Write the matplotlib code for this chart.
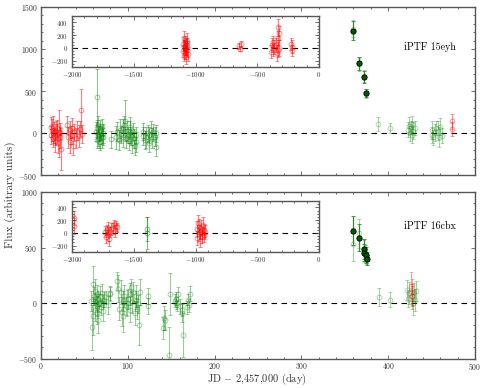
import matplotlib
matplotlib.use("Agg")
import matplotlib.pyplot as plt
from matplotlib.ticker import MultipleLocator

plt.rcParams['font.family'] = 'serif'
plt.rcParams['font.serif'] = ['cmr10']
plt.rcParams['mathtext.fontset'] = 'cm'
plt.rcParams['axes.formatter.use_mathtext'] = True

# ---- iPTF 15eyh (top panel) ----
eyh_red_x = [11, 12, 13, 14, 14, 15, 16, 16, 17, 18, 19, 20, 21, 22, 22, 23,
             30, 31, 33, 34, 35, 36, 37, 38, 40, 41, 44, 45, 46, 47]
eyh_red_y = [70, -20, 40, -60, 90, 10, -40, -90, 30, -10, 60, -120, 0, -50, 20, -190,
             100, -50, 40, -100, -20, 60, -150, 10, -60, 30, -30, 50, 280, -10]
eyh_red_e = [120, 110, 130, 100, 110, 120, 100, 130, 110, 120, 100, 110, 280, 120, 100, 250,
             110, 120, 100, 130, 110, 120, 110, 100, 120, 110, 130, 100, 250, 110]

eyh_grn_x = [63, 64, 65, 65, 66, 66, 67, 67, 68, 68, 69, 70, 70, 71, 72, 81,
             87, 88, 90, 91, 92, 94, 95, 96, 97, 98, 99, 100, 101, 102, 103, 104, 105, 106, 107, 108, 109, 110,
             117, 118, 120, 121, 123, 124, 125, 127, 128, 129, 131, 132, 133]
eyh_grn_y = [20, -80, 430, 60, -30, 100, -60, 10, 40, -100, -20, 70, -50, 0, -40, -70,
             -50, 20, -80, 40, -10, 60, -40, 100, 150, -60, 30, -20, -90, 10, 70, -30, -110, 20, -60, -150, -100, -20,
             -30, 20, -80, -50, 0, -110, -20, 40, -60, 10, -40, 0, -160]
eyh_grn_e = [110, 100, 330, 100, 120, 100, 110, 100, 120, 100, 110, 100, 120, 110, 100, 100,
             140, 110, 120, 130, 100, 110, 120, 100, 240, 110, 120, 100, 110, 130, 120, 110, 120, 100, 110, 110, 120, 100,
             110, 100, 110, 120, 100, 110, 100, 110, 120, 100, 110, 100, 110]

eyh_peak_x = [360, 366, 372, 375]
eyh_peak_y = [1220, 830, 670, 480]
eyh_peak_e = [110, 80, 70, 50]

eyh_late_x = [360, 366, 372, 375, 388, 402, 423, 424, 425, 426, 427, 428, 429, 431,
              450, 451, 452, 454, 455, 457, 458, 460, 462]
eyh_late_y = [1240, 820, 680, 470, 110, 60, 40, 90, 0, 70, -20, 110, 30, 60,
              -20, 40, -50, 10, 60, 30, -40, 80, -30]
eyh_late_e = [100, 80, 70, 50, 80, 60, 90, 100, 90, 80, 100, 90, 100, 80,
              90, 110, 90, 100, 80, 110, 120, 100, 90]

eyh_red2_x = [474, 474]
eyh_red2_y = [140, 50]
eyh_red2_e = [90, 80]

# top inset (earlier epochs)
eyh_in_x = [-1105, -1100, -1095, -1092, -1090, -1088, -1085, -1082, -1080, -1078, -1075, -1072, -1070, -1068, -1065, -1062,
            -645, -640, -635,
            -385, -380, -375, -370, -365,
            -345, -340, -335, -332, -330, -328, -325,
            -225, -220, -215]
eyh_in_y = [-50, 60, -120, 20, 150, -80, 0, 90, -20, 40, -150, 70, -40, 110, 10, -90,
            30, -10, 60,
            -60, 40, 100, -20, 10,
            50, -80, 320, 150, -30, 230, 0,
            60, -40, 20]
eyh_in_e = [100, 110, 90, 100, 120, 100, 110, 100, 90, 110, 100, 90, 110, 120, 100, 110,
            50, 40, 50,
            100, 110, 90, 100, 110,
            110, 120, 140, 110, 120, 110, 130,
            100, 90, 100]

# ---- iPTF 16cbx (bottom panel) ----
cbx_grn_x = [58, 59, 60, 60, 61, 62, 62, 63, 64, 64, 65, 66, 66, 67, 68, 69, 70, 71, 72, 73, 75, 77, 79, 80,
             88, 89, 90, 92, 93, 94, 95, 96, 98, 99, 100, 102, 103, 104, 105, 106, 108, 109, 110, 111, 112, 113, 114,
             123, 123,
             141, 142, 143, 148, 149, 154, 155, 156, 157, 158, 160, 162, 163, 164, 168, 169, 170, 172]
cbx_grn_y = [20, -220, 175, -120, 60, -60, 110, 10, -30, 80, -90, 40, -150, 0, 60, -40, 90, 20, -70, 30, 50, -20, 80, 90,
             200, 130, -50, 100, -80, 20, -120, 60, -30, 0, 40, 80, -60, 140, 10, 100, -90, 30, 60, -50, -10, -200, 100,
             65, -25,
             -225, -135, -150, -470, 85, 20, 0, 40, -20, 80, -30, -60, -90, -290, -40, 30, -20, 85]
cbx_grn_e = [90, 200, 160, 170, 80, 100, 110, 70, 90, 80, 100, 70, 120, 80, 90, 70, 80, 60, 90, 70, 60, 80, 60, 60,
             80, 120, 100, 110, 130, 90, 140, 100, 80, 120, 90, 100, 110, 80, 100, 90, 110, 80, 100, 90, 80, 180, 120,
             70, 70,
             100, 110, 90, 250, 190, 60, 50, 60, 50, 60, 70, 60, 80, 200, 60, 50, 60, 70]

cbx_peak_x = [360, 366, 372, 372.5, 374.5, 375.5]
cbx_peak_y = [650, 590, 490, 455, 435, 400]
cbx_peak_e = [130, 120, 90, 80, 70, 60]

cbx_late_x = [360, 366, 372, 374, 375, 390, 402, 422, 423, 424, 428, 429, 430, 431, 432]
cbx_late_y = [530, 630, 470, 440, 420, 55, 30, 120, 40, 90, 60, 0, 100, 30, 110]
cbx_late_e = [150, 130, 100, 80, 70, 80, 70, 90, 80, 100, 90, 110, 80, 100, 90]

cbx_red_x = [426, 427, 428]
cbx_red_y = [150, 60, 100]
cbx_red_e = [130, 110, 120]

# bottom inset
cbx_in_red_x = [-1985, -1985,
                -1735, -1728, -1720, -1712, -1705, -1698, -1690, -1682,
                -1665, -1658, -1650, -1642, -1635,
                -990, -985, -980, -975, -970, -965, -960, -955, -950, -945, -940, -935, -930, -925]
cbx_in_red_y = [240, 110,
                20, -60, 40, -20, 80, -100, 10, 60,
                70, 140, 30, 110, 90,
                -80, 60, 150, -20, 100, 20, -120, 80, -50, 0, 130, -40, 40, 10]
cbx_in_red_e = [110, 120,
                90, 100, 80, 110, 90, 100, 80, 90,
                80, 70, 90, 80, 70,
                110, 120, 130, 100, 120, 110, 100, 120, 110, 100, 120, 110, 100, 110]
cbx_in_grn_x = [-1395, -1395]
cbx_in_grn_y = [60, 0]
cbx_in_grn_e = [190, 250]

RED = '#ff0000'
GRN = '#008000'


def open_pts(ax, x, y, e, color, alpha):
    ax.errorbar(x, y, yerr=e, fmt='o', mfc='none', mec=color, ecolor=color,
                alpha=alpha, ms=3.5, mew=0.6, elinewidth=0.8, capsize=1.5, capthick=0.6, zorder=2)


def filled_pts(ax, x, y, e):
    ax.errorbar(x, y, yerr=e, fmt='o', mfc='#005a00', mec='black', ecolor='#2e8b2e',
                ms=3.8, mew=0.6, elinewidth=0.9, capsize=1.5, capthick=0.7, zorder=3)


def style(ax, fs=5.5):
    ax.tick_params(which='both', direction='in', top=True, right=True, labelsize=fs,
                   color='#333333', labelcolor='#333333', pad=2.5)
    ax.tick_params(which='major', length=3, width=0.5)
    ax.tick_params(which='minor', length=1.5, width=0.5)
    for s in ax.spines.values():
        s.set_color('#555555')
        s.set_linewidth(1.0)


fig = plt.figure(figsize=(4.85, 3.88), dpi=100)
ax1 = fig.add_axes([0.0845, 0.5480, 0.8948, 0.4340])
ax2 = fig.add_axes([0.0845, 0.0760, 0.8948, 0.4290])
in1 = fig.add_axes([0.1485, 0.8273, 0.5093, 0.1314])
in2 = fig.add_axes([0.1485, 0.3505, 0.5093, 0.1314])

for ax in (ax1, ax2):
    ax.axhline(0, color='black', ls=(0, (5, 4)), lw=0.8, zorder=1)
    ax.set_xlim(0, 500)
    ax.xaxis.set_major_locator(MultipleLocator(100))
    ax.xaxis.set_minor_locator(MultipleLocator(20))
    ax.yaxis.set_minor_locator(MultipleLocator(100))
    style(ax)
ax2.tick_params(axis='x', which='both', pad=1.5)

# top panel
open_pts(ax1, eyh_red_x, eyh_red_y, eyh_red_e, RED, 0.5)
open_pts(ax1, eyh_grn_x, eyh_grn_y, eyh_grn_e, GRN, 0.45)
open_pts(ax1, eyh_late_x, eyh_late_y, eyh_late_e, GRN, 0.35)
open_pts(ax1, eyh_red2_x, eyh_red2_y, eyh_red2_e, RED, 0.45)
filled_pts(ax1, eyh_peak_x, eyh_peak_y, eyh_peak_e)
ax1.set_ylim(-500, 1500)
ax1.yaxis.set_major_locator(MultipleLocator(500))
ax1.tick_params(labelbottom=False)
ax1.text(418, 1030, 'iPTF 15eyh', fontsize=7.2, va='center', ha='left')

# bottom panel
open_pts(ax2, cbx_grn_x, cbx_grn_y, cbx_grn_e, GRN, 0.4)
open_pts(ax2, cbx_late_x, cbx_late_y, cbx_late_e, GRN, 0.35)
open_pts(ax2, cbx_red_x, cbx_red_y, cbx_red_e, RED, 0.35)
filled_pts(ax2, cbx_peak_x, cbx_peak_y, cbx_peak_e)
ax2.set_ylim(-500, 1000)
ax2.yaxis.set_major_locator(MultipleLocator(500))
ax2.text(418, 690, 'iPTF 16cbx', fontsize=7.2, va='center', ha='left')

# insets
for ax in (in1, in2):
    ax.axhline(0, color='black', ls=(0, (5, 4)), lw=0.8, zorder=1)
    ax.set_xlim(-2000, 0)
    ax.set_ylim(-300, 500)
    ax.xaxis.set_major_locator(MultipleLocator(500))
    ax.xaxis.set_minor_locator(MultipleLocator(100))
    ax.yaxis.set_major_locator(MultipleLocator(200))
    ax.yaxis.set_minor_locator(MultipleLocator(50))
    style(ax, fs=5)

open_pts(in1, eyh_in_x, eyh_in_y, eyh_in_e, RED, 0.5)
open_pts(in2, cbx_in_red_x, cbx_in_red_y, cbx_in_red_e, RED, 0.5)
open_pts(in2, cbx_in_grn_x, cbx_in_grn_y, cbx_in_grn_e, GRN, 0.5)

fig.text(0.022, 0.497, 'Flux (arbitrary units)', rotation=90, fontsize=8,
         ha='center', va='center', color='#333333')
fig.text(0.530, 0.003, r'JD $-$ 2,457,000 (day)', fontsize=7.5,
         ha='center', va='bottom', color='#333333')

fig.savefig('out.png', dpi=100)
